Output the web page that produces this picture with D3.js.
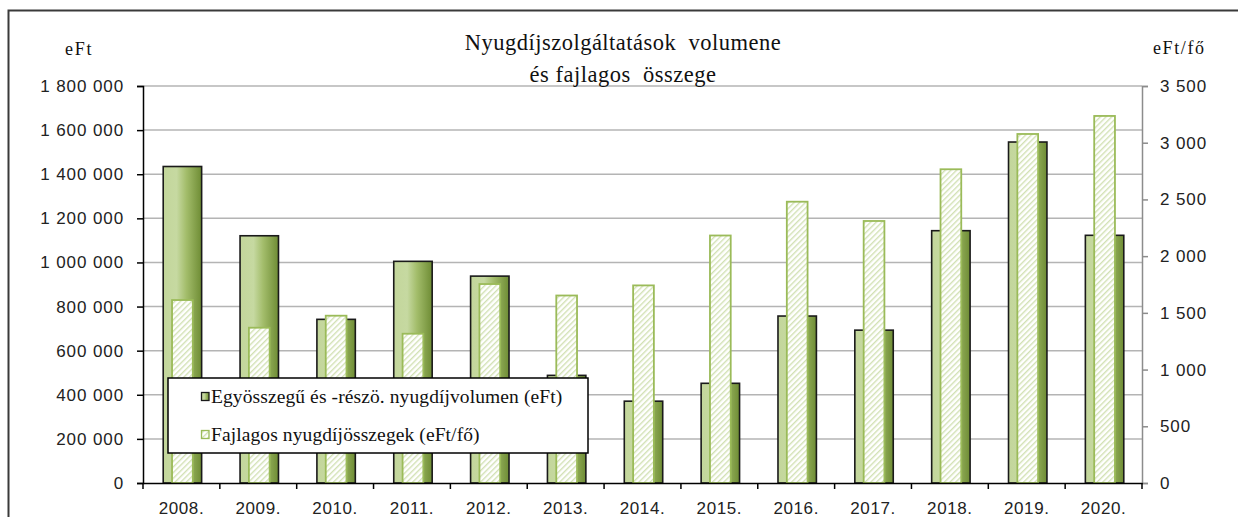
<!DOCTYPE html>
<html>
<head>
<meta charset="utf-8">
<script src="https://cdn.jsdelivr.net/npm/d3@7"></script>
<style>
  body { margin: 0; background: #fff; }
  svg { display: block; }
  .tick text { font-family: "Liberation Sans", Arial, sans-serif; }
</style>
</head>
<body>
<div id="chart"></div>
<script>
// categories and values
const years = ["2008.", "2009.", "2010.", "2011.", "2012.", "2013.", "2014.",
  "2015.", "2016.", "2017.", "2018.", "2019.", "2020."];
// lump-sum and partial pension volume (eFt), left axis
const volume = [1435000, 1121000, 742000, 1005000, 938000, 488000, 371000,
  452000, 757000, 693000, 1144000, 1546000, 1123000];
// average pension amounts (eFt/fő), right axis
const perHead = [1613, 1369, 1475, 1316, 1754, 1653, 1742,
  2182, 2480, 2310, 2766, 3077, 3236];
const leftTicks = [0, 200000, 400000, 600000, 800000, 1000000, 1200000, 1400000, 1600000, 1800000];
const rightTicks = [0, 500, 1000, 1500, 2000, 2500, 3000, 3500];
const seriesNames = ["Egyösszegű és -részö. nyugdíjvolumen (eFt)", "Fajlagos nyugdíjösszegek (eFt/fő)"];
const titleLines = ["Nyugdíjszolgáltatások  volumene", "és fajlagos  összege"];

const W = 1238, H = 517;
const plot = { left: 143, right: 1142, top: 86, bottom: 483 };

const hu = d3.formatLocale({ decimal: ",", thousands: " ", grouping: [3], currency: ["", ""] });
const fmt = hu.format(",d");

const svg = d3.select("#chart").append("svg")
  .attr("width", W).attr("height", H);

const defs = svg.append("defs");
const grad = defs.append("linearGradient").attr("id", "volGrad")
  .attr("x1", "0%").attr("x2", "100%").attr("y1", "0%").attr("y2", "0%");
grad.append("stop").attr("offset", "0%").attr("stop-color", "#c3d69b");
grad.append("stop").attr("offset", "35%").attr("stop-color", "#c6d9a1");
grad.append("stop").attr("offset", "60%").attr("stop-color", "#a3bd6b");
grad.append("stop").attr("offset", "100%").attr("stop-color", "#6e8c34");

const hatch = defs.append("pattern").attr("id", "hatch")
  .attr("patternUnits", "userSpaceOnUse").attr("width", 4).attr("height", 4)
  .attr("patternTransform", "rotate(45)");
hatch.append("rect").attr("width", 4).attr("height", 4).attr("fill", "#fff");
hatch.append("rect").attr("width", 1.4).attr("height", 4).attr("fill", "#d2e1b4");

// outer chart frame (runs off the right and bottom edge)
svg.append("rect")
  .attr("x", 8.5).attr("y", 10.5).attr("width", 1300).attr("height", 600)
  .attr("fill", "none").attr("stroke", "#3a3a3a").attr("stroke-width", 2);

const x = d3.scaleBand().domain(years).range([plot.left, plot.right]);
const yL = d3.scaleLinear().domain([0, 1800000]).range([plot.bottom, plot.top]);
const yR = d3.scaleLinear().domain([0, 3500]).range([plot.bottom, plot.top]);

// gridlines
svg.append("g").selectAll("line").data(leftTicks.slice(1)).enter().append("line")
  .attr("x1", plot.left).attr("x2", plot.right)
  .attr("y1", d => yL(d)).attr("y2", d => yL(d))
  .attr("stroke", "#b4b4b4").attr("stroke-width", 1.5);

// volume bars
const w1 = x.bandwidth() * 0.5;
svg.append("g").selectAll("rect").data(years).enter().append("rect")
  .attr("x", d => x(d) + (x.bandwidth() - w1) / 2 + 1)
  .attr("y", (d, i) => yL(volume[i]))
  .attr("width", w1)
  .attr("height", (d, i) => yL(0) - yL(volume[i]))
  .attr("fill", "url(#volGrad)")
  .attr("stroke", "#1a1a1a").attr("stroke-width", 1.6);

// per head bars (secondary axis)
const w2 = x.bandwidth() * 0.27;
svg.append("g").selectAll("rect").data(years).enter().append("rect")
  .attr("x", d => x(d) + (x.bandwidth() - w2) / 2 + 1)
  .attr("y", (d, i) => yR(perHead[i]))
  .attr("width", w2)
  .attr("height", (d, i) => yR(0) - yR(perHead[i]))
  .attr("fill", "url(#hatch)")
  .attr("stroke", "#9bbb59").attr("stroke-width", 1.8);

// left axis
const axL = svg.append("g").attr("transform", "translate(" + plot.left + ",0)")
  .call(d3.axisLeft(yL).tickValues(leftTicks).tickFormat(fmt).tickSize(6).tickPadding(13));
axL.select(".domain").attr("stroke", "#000").attr("stroke-width", 1.5);
axL.selectAll(".tick line").attr("stroke", "#000").attr("stroke-width", 1.5);
axL.selectAll(".tick text").attr("font-size", 17).attr("fill", "#222")
  .style("letter-spacing", "0.9px");

// right axis
const axR = svg.append("g").attr("transform", "translate(" + plot.right + ",0)")
  .call(d3.axisRight(yR).tickValues(rightTicks).tickFormat(fmt).tickSize(6).tickPadding(12));
axR.select(".domain").attr("stroke", "#8c8c8c").attr("stroke-width", 1.5);
axR.selectAll(".tick line").attr("stroke", "#8c8c8c").attr("stroke-width", 1.5);
axR.selectAll(".tick text").attr("font-size", 17).attr("fill", "#222")
  .style("letter-spacing", "0.9px");

// category axis
const axX = svg.append("g").attr("transform", "translate(0," + plot.bottom + ")")
  .call(d3.axisBottom(x).tickSize(0).tickPadding(19));
axX.select(".domain").attr("stroke", "#000").attr("stroke-width", 1.5);
axX.selectAll(".tick text").attr("font-size", 17).attr("fill", "#222")
  .style("letter-spacing", "0.6px");
svg.append("g").selectAll("line").data(years.concat(["end"])).enter().append("line")
  .attr("x1", d => d === "end" ? plot.right : x(d))
  .attr("x2", d => d === "end" ? plot.right : x(d))
  .attr("y1", plot.bottom).attr("y2", plot.bottom + 6)
  .attr("stroke", "#000").attr("stroke-width", 1.5);

// title and axis titles
const serif = "'Liberation Serif', 'Times New Roman', serif";
svg.append("g").selectAll("text").data(titleLines).enter().append("text")
  .attr("x", 623).attr("y", (d, i) => 50 + i * 32)
  .attr("text-anchor", "middle").attr("font-family", serif).attr("font-size", 22.5)
  .attr("fill", "#111").style("white-space", "pre").attr("xml:space", "preserve")
  .style("letter-spacing", "0.5px")
  .text(d => d);
svg.append("text").attr("x", 65).attr("y", 55)
  .attr("font-family", serif).attr("font-size", 18).attr("fill", "#111")
  .style("letter-spacing", "1.8px").text("eFt");
svg.append("text").attr("x", 1153).attr("y", 54)
  .attr("font-family", serif).attr("font-size", 18).attr("fill", "#111")
  .style("letter-spacing", "1.6px").text("eFt/fő");

// legend
const lg = svg.append("g");
lg.append("rect").attr("x", 168).attr("y", 378).attr("width", 420).attr("height", 75)
  .attr("fill", "#fff").attr("stroke", "#000").attr("stroke-width", 1.5);
const swatches = [
  { fill: "url(#volGrad)", stroke: "#1a1a1a" },
  { fill: "url(#hatch)", stroke: "#9bbb59" }
];
seriesNames.forEach(function(name, i) {
  const yy = 392 + i * 38;
  lg.append("rect").attr("x", 201.5).attr("y", yy + 0.5).attr("width", 7.5).attr("height", 8)
    .attr("fill", swatches[i].fill).attr("stroke", swatches[i].stroke).attr("stroke-width", 1.3);
  lg.append("text").attr("x", 211).attr("y", yy + 11)
    .attr("font-family", serif).attr("font-size", 19.5).attr("fill", "#111")
    .style("letter-spacing", "0.1px")
    .text(name);
});
</script>
</body>
</html>
